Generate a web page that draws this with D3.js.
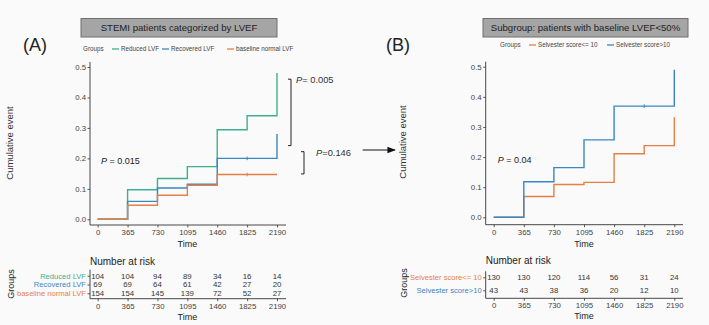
<!DOCTYPE html>
<html lang="en">
<head>
<meta charset="UTF-8">
<title>Cumulative event curves</title>
<style>
  body { margin: 0; background: #fafafa; }
  svg { display: block; font-family: "Liberation Sans", Arial, sans-serif; }
  .axis text { fill: #444; }
  .axis line { stroke: #333; stroke-width: 0.8; }
  .axis path { display: none; }
  .axline { stroke: #333; stroke-width: 0.9; }
  .curve { fill: none; stroke-width: 1.4; }
</style>
</head>
<body>
<svg width="709" height="325"></svg>
<script src="https://cdnjs.cloudflare.com/ajax/libs/d3/7.8.5/d3.min.js"></script>
<script>
// ---- data ----
const times = [0, 365, 730, 1095, 1460, 1825, 2190];
const yTicks = [0, 0.1, 0.2, 0.3, 0.4, 0.5];

const groupsA = ['Reduced LVF', 'Recovered LVF', 'baseline normal LVF'];
const colorsA = ['#3fb08f', '#3a87c2', '#e47f45'];
const reducedLVF = [0, 0.097, 0.134, 0.173, 0.294, 0.34, 0.48];
const recoveredLVF = [0, 0.059, 0.103, 0.115, 0.2, 0.2, 0.28];
const normalLVF = [0, 0.046, 0.079, 0.112, 0.147, 0.147, 0.147];
const censorA = [[], [1825], [1825]];
const riskA = [
  [104, 104, 94, 89, 34, 16, 14],
  [69, 69, 64, 61, 42, 27, 20],
  [154, 154, 145, 139, 72, 52, 27]
];

const groupsB = ['Selvester score<= 10', 'Selvester score>10'];
const colorsB = ['#e47f45', '#3a87c2'];
const selvesterLow = [0, 0.069, 0.109, 0.116, 0.211, 0.238, 0.332];
const selvesterHigh = [0, 0.118, 0.165, 0.257, 0.369, 0.369, 0.49];
const censorB = [[], [1825]];
const riskB = [
  [130, 130, 120, 114, 56, 31, 24],
  [43, 43, 38, 36, 20, 12, 10]
];

const svg = d3.select('svg');

// arrow marker
svg.append('defs').append('marker')
  .attr('id', 'arrow')
  .attr('viewBox', '0 0 10 10')
  .attr('refX', 9).attr('refY', 5)
  .attr('markerWidth', 7).attr('markerHeight', 7)
  .attr('orient', 'auto')
  .append('path').attr('d', 'M0,1 L10,5 L0,9 Z').attr('fill', '#111');

function panel(cfg) {
  const g = svg.append('g');
  const x = d3.scaleLinear().domain([0, 2190]).range([cfg.x0, cfg.x1]);
  const y = d3.scaleLinear().domain([0, 0.5]).range([cfg.y0, cfg.y1]);

  // panel letter
  g.append('text').attr('x', cfg.letterX).attr('y', 51)
    .attr('font-size', 18).attr('fill', '#222').text(cfg.letter);

  // title box
  g.append('rect').attr('x', cfg.boxX).attr('y', 18.5)
    .attr('width', cfg.boxW).attr('height', 18.5)
    .attr('fill', '#a5a5a5').attr('stroke', '#6f6f6f').attr('stroke-width', 1);
  g.append('text').attr('x', cfg.boxX + cfg.boxW / 2).attr('y', 31.3)
    .attr('text-anchor', 'middle').attr('font-size', 9.6).attr('fill', '#222')
    .text(cfg.title);

  // legend
  const leg = g.append('g').attr('font-size', 6.3).attr('fill', '#444');
  leg.append('text').attr('x', cfg.legX).attr('y', cfg.legY + 2.3).text('Groups');
  cfg.groups.forEach((name, i) => {
    const lx = cfg.legItems[i];
    leg.append('line').attr('x1', lx).attr('x2', lx + 7)
      .attr('y1', cfg.legY).attr('y2', cfg.legY)
      .attr('stroke', cfg.colors[i]).attr('stroke-width', 1.3);
    leg.append('text').attr('x', lx + 9).attr('y', cfg.legY + 2.3).text(name);
  });

  // axes
  const yAx = g.append('g').attr('class', 'axis')
    .attr('transform', `translate(${cfg.ax},0)`)
    .call(d3.axisLeft(y).tickValues(yTicks).tickFormat(d3.format('.1f'))
      .tickSize(2.5).tickPadding(1.5));
  yAx.selectAll('text').attr('font-size', 7.8);
  g.append('line').attr('class', 'axline')
    .attr('x1', cfg.ax).attr('x2', cfg.ax).attr('y1', cfg.y1 - 5).attr('y2', cfg.ay);
  const xAx = g.append('g').attr('class', 'axis')
    .attr('transform', `translate(0,${cfg.ay})`)
    .call(d3.axisBottom(x).tickValues(times).tickFormat(d3.format('d'))
      .tickSize(2.5).tickPadding(2));
  xAx.selectAll('text').attr('font-size', 7.8);
  g.append('line').attr('class', 'axline')
    .attr('x1', cfg.ax).attr('x2', cfg.axEnd).attr('y1', cfg.ay).attr('y2', cfg.ay);
  g.append('text').attr('x', (cfg.x0 + cfg.x1) / 2).attr('y', cfg.ay + 22)
    .attr('text-anchor', 'middle').attr('font-size', 9).attr('fill', '#222').text('Time');

  g.append('text')
    .attr('transform', `translate(${cfg.ylabX},${cfg.ylabY}) rotate(-90)`)
    .attr('text-anchor', 'middle').attr('font-size', 9.5).attr('fill', '#333')
    .text('Cumulative event');

  // curves
  const line = d3.line().x(d => x(d[0])).y(d => y(d[1])).curve(d3.curveStepAfter);
  cfg.order.forEach(i => {
    const vals = cfg.series[i];
    g.append('path').attr('class', 'curve')
      .attr('stroke', cfg.colors[i])
      .attr('d', line(times.map((t, k) => [t, vals[k]])));
    cfg.censor[i].forEach(t => {
      const v = vals[times.indexOf(t)];
      g.append('line').attr('x1', x(t)).attr('x2', x(t))
        .attr('y1', y(v) - 1.8).attr('y2', y(v) + 1.8)
        .attr('stroke', cfg.colors[i]).attr('stroke-width', 1);
    });
  });

  // p value
  const pt = g.append('text').attr('x', cfg.pX).attr('y', cfg.pY)
    .attr('font-size', 9).attr('fill', '#222');
  pt.append('tspan').attr('font-style', 'italic').text('P');
  pt.append('tspan').text(' = ' + cfg.p);

  // risk table
  const ry = d3.scalePoint().domain(cfg.groups).range(cfg.riskRange);
  g.append('text').attr('x', cfg.ax).attr('y', cfg.riskTitleY)
    .attr('font-size', 10).attr('fill', '#222').text('Number at risk');
  const rAx = g.append('g').attr('class', 'axis')
    .attr('transform', `translate(${cfg.ax},0)`)
    .call(d3.axisLeft(ry).tickSize(2.5).tickPadding(1.5));
  rAx.selectAll('text').attr('font-size', 7.6)
    .style('fill', (d, i) => cfg.colors[i]);
  g.append('line').attr('class', 'axline')
    .attr('x1', cfg.ax).attr('x2', cfg.ax)
    .attr('y1', cfg.riskRange[0] - 6).attr('y2', cfg.riskAxisY);
  g.append('line').attr('class', 'axline')
    .attr('x1', cfg.ax).attr('x2', cfg.axEnd)
    .attr('y1', cfg.riskAxisY).attr('y2', cfg.riskAxisY);
  const rxAx = g.append('g').attr('class', 'axis')
    .attr('transform', `translate(0,${cfg.riskAxisY})`)
    .call(d3.axisBottom(x).tickValues(times).tickFormat(d3.format('d'))
      .tickSize(2.5).tickPadding(2));
  rxAx.selectAll('text').attr('font-size', 7.8);
  g.append('text').attr('x', (cfg.x0 + cfg.x1) / 2).attr('y', cfg.riskAxisY + 21)
    .attr('text-anchor', 'middle').attr('font-size', 9).attr('fill', '#222').text('Time');
  g.append('text')
    .attr('transform', `translate(${cfg.ylabX + 1},${cfg.groupsY}) rotate(-90)`)
    .attr('text-anchor', 'middle').attr('font-size', 9).attr('fill', '#222')
    .text('Groups');

  cfg.risk.forEach((row, i) => {
    g.append('g').selectAll('text').data(row).join('text')
      .attr('x', (d, k) => x(times[k]))
      .attr('y', ry(cfg.groups[i]) + 2.8)
      .attr('text-anchor', 'middle').attr('font-size', 7.8).attr('fill', '#333')
      .text(d => d);
  });

  return { g, x, y };
}

const A = panel({
  letter: '(A)', letterX: 23, title: 'STEMI patients categorized by LVEF',
  boxX: 81, boxW: 196, legX: 83, legY: 49, legItems: [112, 162, 227],
  groups: groupsA, colors: colorsA, series: [reducedLVF, recoveredLVF, normalLVF],
  censor: censorA, order: [0, 1, 2],
  x0: 97.7, x1: 277, y0: 219.3, y1: 67, ax: 90, ay: 225, axEnd: 286,
  ylabX: 13, ylabY: 143, pX: 101, pY: 163.5, p: '0.015',
  riskRange: [275.7, 293.3], riskTitleY: 264.5, riskAxisY: 298.7, groupsY: 284,
  risk: riskA
});

const B = panel({
  letter: '(B)', letterX: 386, title: 'Subgroup: patients with baseline LVEF<50%',
  boxX: 483, boxW: 205, legX: 500, legY: 45, legItems: [529, 607],
  groups: groupsB, colors: colorsB, series: [selvesterLow, selvesterHigh],
  censor: censorB, order: [0, 1],
  x0: 493.7, x1: 674.3, y0: 217.3, y1: 66.7, ax: 485.7, ay: 224.7, axEnd: 683,
  ylabX: 405.5, ylabY: 142, pX: 497.7, pY: 162.5, p: '0.04',
  riskRange: [277.3, 290.3], riskTitleY: 264, riskAxisY: 298.3, groupsY: 283,
  risk: riskB
});

// pairwise brackets in panel A
const brackets = [
  { x: 291, top: 0.46, bottom: 0.242, label: '= 0.005', lx: 296, ly: 82.5 },
  { x: 304, top: 0.222, bottom: 0.149, label: '=0.146', lx: 316, ly: 156 }
];
brackets.forEach(b => {
  const y1 = A.y(b.top), y2 = A.y(b.bottom);
  A.g.append('path')
    .attr('d', `M${b.x - 3},${y1} H${b.x} V${y2} H${b.x - 3}`)
    .attr('fill', 'none').attr('stroke', '#222').attr('stroke-width', 1);
  const t = A.g.append('text').attr('x', b.lx).attr('y', b.ly)
    .attr('font-size', 9.3).attr('fill', '#333');
  t.append('tspan').attr('font-style', 'italic').text('P');
  t.append('tspan').text(b.label);
});

// arrow between panels
svg.append('line').attr('x1', 362.7).attr('x2', 395).attr('y1', 150).attr('y2', 150)
  .attr('stroke', '#111').attr('stroke-width', 1.2).attr('marker-end', 'url(#arrow)');
</script>
</body>
</html>
